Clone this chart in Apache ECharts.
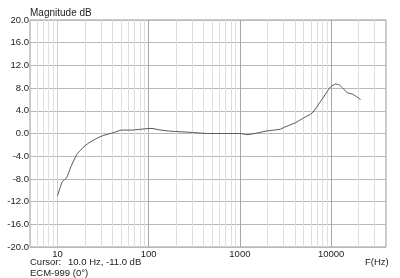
<!DOCTYPE html>
<html><head><meta charset="utf-8">
<script src="https://cdn.jsdelivr.net/npm/echarts@6/dist/echarts.min.js"></script>
<style>html,body{margin:0;padding:0;background:#fff}#c{width:400px;height:278px}</style>
</head><body><div id="c"></div>
<script>
const freqs = [10, 11.3, 12.6, 14, 16.6, 21.4, 30, 42, 50, 64, 82, 106, 136, 176, 292, 445, 623, 1000, 1194, 1980, 2773, 3020, 4060, 5010, 6190, 7630, 9040, 9840, 11170, 12150, 13250, 15030, 17060, 18550, 21050];
const magnitude = [-11, -8.5, -7.8, -5.9, -3.5, -1.8, -0.5, 0.2, 0.6, 0.6, 0.75, 0.9, 0.6, 0.4, 0.2, 0, 0, 0, -0.2, 0.45, 0.75, 1.05, 1.9, 2.75, 3.6, 5.6, 7.35, 8.2, 8.7, 8.6, 8.1, 7.2, 6.95, 6.6, 6.0];
const xTickLabels = [10, 100, 1000, 10000];
const majorGrid = [100, 1000, 10000];
const minorGrid = [6,7,8,9,20,30,40,50,60,70,80,90,200,300,400,500,600,700,800,900,2000,3000,4000,5000,6000,7000,8000,9000,20000,30000];
const cursorFreq = 10;
const yTicks = [-20,-16,-12,-8,-4,0,4,8,12,16,20];

const font = 'Liberation Sans, Arial, sans-serif';
const chart = echarts.init(document.getElementById('c'), null, {renderer:'canvas'});
const vline = (vals, color, z) => ({
  type: 'line', data: [], silent: true, z: z,
  markLine: {silent: true, symbol: 'none', label: {show: false}, z: z, animation: false,
    lineStyle: {color: color, width: 1, type: 'solid'},
    data: vals.map(f => ({xAxis: f}))}
});
chart.setOption({
  animation: false,
  backgroundColor: '#fff',
  grid: {left: 30, right: 14, top: 20, bottom: 31, show: true, borderColor: '#999', borderWidth: 1, containLabel: false},
  xAxis: {
    type: 'log', logBase: 10, min: 5, max: 40000,
    axisLine: {show: false}, axisTick: {show: false},
    splitLine: {show: false},
    axisLabel: {color: '#222', fontSize: 9.5, fontFamily: font, margin: 2,
      formatter: v => xTickLabels.some(t => Math.abs(t - v) < 1e-6 * t) ? String(Math.round(v)) : ''}
  },
  yAxis: {
    type: 'value', min: yTicks[0], max: yTicks[yTicks.length-1], interval: 4,
    axisLine: {show: false}, axisTick: {show: false},
    splitLine: {show: true, lineStyle: {color: '#b8b8b8', width: 1}},
    axisLabel: {color: '#222', fontSize: 9.5, fontFamily: font, margin: 1, formatter: v => v.toFixed(1)}
  },
  series: [
    vline(minorGrid, '#dedede', 1),
    vline(majorGrid, '#a8a8a8', 2),
    vline([cursorFreq], '#e6dc5a', 3),
    {
      type: 'line', showSymbol: false, smooth: 0.2, z: 4,
      lineStyle: {color: '#555', width: 1},
      data: freqs.map((f, i) => [f, magnitude[i]])
    }
  ],
  graphic: [
    {type: 'text', left: 30, top: 8, style: {text: 'Magnitude dB', fill: '#222', font: '10px ' + font}},
    {type: 'text', left: 30, top: 257, style: {text: 'Cursor:', fill: '#222', font: '9.5px ' + font}},
    {type: 'text', left: 68, top: 257, style: {text: '10.0 Hz, -11.0 dB', fill: '#222', font: '9.5px ' + font}},
    {type: 'text', left: 30, top: 268, style: {text: 'ECM-999 (0°)', fill: '#222', font: '9.5px ' + font}},
    {type: 'text', left: 365, top: 257, style: {text: 'F(Hz)', fill: '#222', font: '9.5px ' + font}}
  ]
});
</script></body></html>
